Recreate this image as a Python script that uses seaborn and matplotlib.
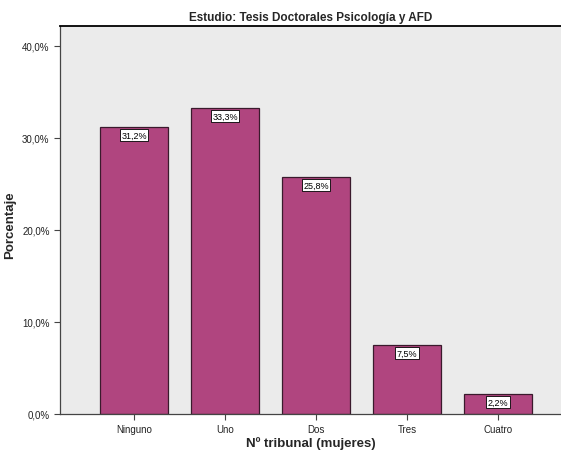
import matplotlib
matplotlib.use("Agg")
import matplotlib.pyplot as plt
import seaborn as sns
import pandas as pd

# Datos
categorias = ["Ninguno", "Uno", "Dos", "Tres", "Cuatro"]
porcentajes = [31.2, 33.3, 25.8, 7.5, 2.2]
ticks_y = [0, 10, 20, 30, 40]

df = pd.DataFrame({"cat": categorias, "pct": porcentajes})

sns.set_theme(style="ticks")
plt.rcParams["font.family"] = ["Liberation Sans", "DejaVu Sans"]

fig = plt.figure(figsize=(5.61, 4.52), dpi=100)
ax = fig.add_axes([60 / 561, 37 / 452, 1 - 60 / 561, 388 / 452])
ax.set_facecolor("#ebebeb")

sns.barplot(data=df, x="cat", y="pct", color="#b0457f", saturation=1,
            width=0.747, edgecolor="#3a1a2c", linewidth=0.9, ax=ax)

ax.set_xlim(-0.813, 4.692)
ax.set_ylim(0, 42.17)
ax.set_yticks(ticks_y)
ax.set_yticklabels([f"{t:.1f}%".replace(".", ",") for t in ticks_y])

# etiquetas de valor dentro de las barras
for i, v in enumerate(porcentajes):
    ax.text(i, v - 0.9, f"{v:.1f}%".replace(".", ","), ha="center", va="center",
            fontsize=6.5, color="black",
            bbox=dict(boxstyle="square,pad=0.15", fc="white", ec="black", lw=0.6))

ax.tick_params(axis="both", labelsize=7, colors="#444444", length=4, width=0.8)
ax.tick_params(axis="both", labelcolor="#222222")
for s in ["left", "bottom", "top"]:
    ax.spines[s].set_visible(True)
    ax.spines[s].set_color("#444444")
    ax.spines[s].set_linewidth(0.9)
ax.spines["top"].set_color("black")
ax.spines["top"].set_linewidth(1.3)
ax.spines["right"].set_visible(False)

ax.set_xlabel("Nº tribunal (mujeres)", fontsize=9.5, fontweight="bold")
ax.xaxis.set_label_coords(0.5, -0.057)
ax.set_ylabel("Porcentaje", fontsize=9.5, fontweight="bold")
ax.yaxis.set_label_coords(-0.088, 0.49)
ax.set_title("Estudio: Tesis Doctorales Psicología y AFD", fontsize=8.5,
             fontweight="bold", pad=4)

fig.savefig("out.png", dpi=100)
